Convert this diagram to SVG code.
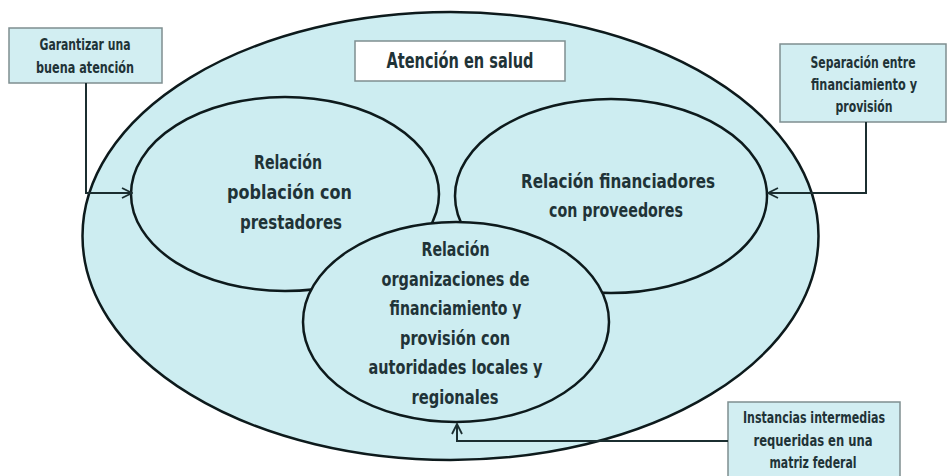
<svg xmlns="http://www.w3.org/2000/svg" width="947" height="476" viewBox="0 0 947 476">
<defs>
<style>
.el{fill:#cdedf1;stroke:#0d1a1c;stroke-width:2.5}
.box{fill:#d2eef2;stroke:#7f8e90;stroke-width:1.5}
.tbox{fill:#ffffff;stroke:#7f8e90;stroke-width:1.5}
text{font-family:"DejaVu Sans Condensed","DejaVu Sans",sans-serif;font-stretch:condensed;font-weight:bold;fill:#1f3337;text-anchor:middle}
.big{font-size:19px}
.sm{font-size:15px}
.ttl{font-size:21px}
.con{fill:none;stroke:#1b2e30;stroke-width:2;marker-end:url(#ah)}
</style>
<marker id="ah" viewBox="0 0 12 12" refX="11" refY="6" markerWidth="12" markerHeight="12" markerUnits="userSpaceOnUse" orient="auto">
<path d="M1,1 L11,6 L1,11" fill="none" stroke="#1b2e30" stroke-width="1.8"/>
</marker>
</defs>
<rect width="947" height="476" fill="#ffffff"/>
<g id="outer">
<ellipse class="el" cx="450.5" cy="236" rx="368" ry="224"/>
</g>
<g id="title">
<rect class="tbox" x="355" y="41" width="210" height="40"/>
<text class="ttl" x="460" y="68" textLength="147" lengthAdjust="spacingAndGlyphs">Atención en salud</text>
</g>
<g id="left">
<ellipse class="el" cx="285" cy="194" rx="154" ry="97"/>
<text class="big" x="288" y="169" textLength="68" lengthAdjust="spacingAndGlyphs">Relación</text>
<text class="big" x="289.5" y="199" textLength="125" lengthAdjust="spacingAndGlyphs">población con</text>
<text class="big" x="291" y="229" textLength="102" lengthAdjust="spacingAndGlyphs">prestadores</text>
</g>
<g id="right">
<ellipse class="el" cx="611" cy="196" rx="156" ry="97"/>
<text class="big" x="618" y="188" textLength="194" lengthAdjust="spacingAndGlyphs">Relación financiadores</text>
<text class="big" x="616" y="217" textLength="134" lengthAdjust="spacingAndGlyphs">con proveedores</text>
</g>
<g id="bottom">
<ellipse class="el" cx="456" cy="322" rx="153" ry="100"/>
<text class="big" x="455.5" y="256" textLength="68" lengthAdjust="spacingAndGlyphs">Relación</text>
<text class="big" x="455.5" y="285.5" textLength="148" lengthAdjust="spacingAndGlyphs">organizaciones de</text>
<text class="big" x="455.5" y="315" textLength="132" lengthAdjust="spacingAndGlyphs">financiamiento y</text>
<text class="big" x="455" y="344.5" textLength="110" lengthAdjust="spacingAndGlyphs">provisión con</text>
<text class="big" x="455.5" y="374" textLength="174" lengthAdjust="spacingAndGlyphs">autoridades locales y</text>
<text class="big" x="455" y="403.5" textLength="87" lengthAdjust="spacingAndGlyphs">regionales</text>
</g>
<g id="box-garantizar">
<rect class="box" x="9" y="28" width="153" height="55"/>
<text class="sm" x="85" y="50" textLength="91" lengthAdjust="spacingAndGlyphs">Garantizar una</text>
<text class="sm" x="85" y="73" textLength="98" lengthAdjust="spacingAndGlyphs">buena atención</text>
</g>
<g id="box-separacion">
<rect class="box" x="780" y="44" width="166" height="78"/>
<text class="sm" x="863" y="68" textLength="105" lengthAdjust="spacingAndGlyphs">Separación entre</text>
<text class="sm" x="864" y="90" textLength="106" lengthAdjust="spacingAndGlyphs">financiamiento y</text>
<text class="sm" x="864" y="112" textLength="57" lengthAdjust="spacingAndGlyphs">provisión</text>
</g>
<g id="box-instancias">
<rect class="box" x="728" y="402" width="172" height="80"/>
<text class="sm" x="814" y="423" textLength="142" lengthAdjust="spacingAndGlyphs">Instancias intermedias</text>
<text class="sm" x="813" y="446" textLength="119" lengthAdjust="spacingAndGlyphs">requeridas en una</text>
<text class="sm" x="813" y="468" textLength="87" lengthAdjust="spacingAndGlyphs">matriz federal</text>
</g>
<g id="connectors">
<path class="con" d="M86,83 V193 H132"/>
<path class="con" d="M866,122 V193 H768"/>
<path class="con" d="M728,441 H457 V424"/>
</g>
</svg>
